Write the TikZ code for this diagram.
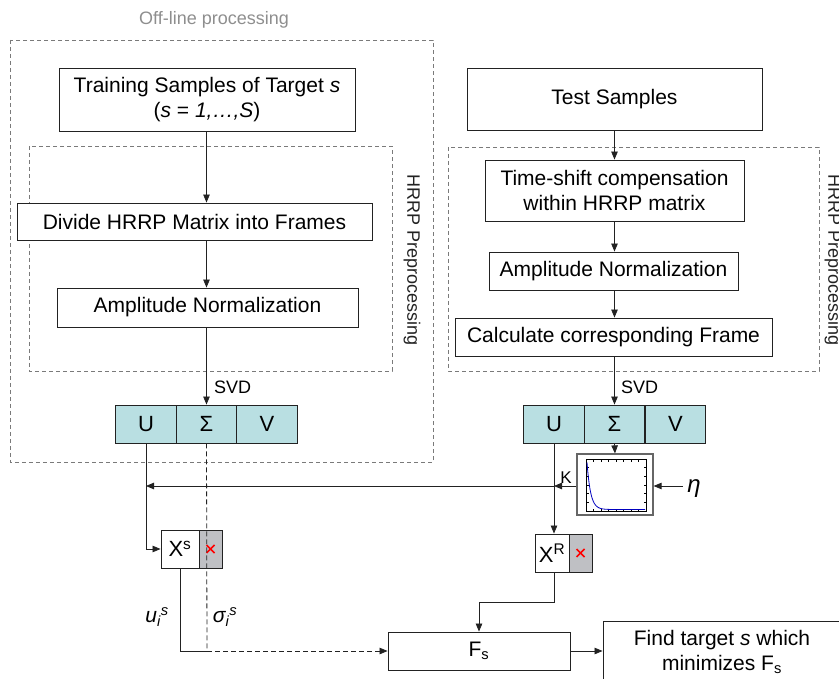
\documentclass[tikz,border=0pt]{standalone}
\usepackage{fontspec}
\setmainfont{Liberation Sans}
\usetikzlibrary{arrows.meta}
\definecolor{cellc}{HTML}{B9DFE2}
\definecolor{grayc}{HTML}{BFC0C4}
\definecolor{linec}{HTML}{222222}
\definecolor{dashc}{HTML}{7A7A7A}
\definecolor{titlec}{HTML}{8E8E8E}
\begin{document}
\begin{tikzpicture}[x=1pt,y=-1pt,
  box/.style={draw=linec, line width=0.9pt, fill=white, inner sep=0pt, align=center, font=\fontsize{21}{25}\selectfont},
  cell/.style={draw=linec, line width=0.9pt, fill=cellc, inner sep=0pt, minimum width=60.5pt, minimum height=38pt, font=\fontsize{22}{26}\selectfont},
  gcell/.style={draw=linec, line width=0.9pt, fill=grayc, inner sep=0pt, minimum width=23pt, minimum height=38pt},
  dbox/.style={draw=dashc, line width=0.8pt, dash pattern=on 4pt off 3pt},
  arr/.style={draw=linec, line width=0.8pt, -{Triangle[length=8pt,width=6.5pt]}},
  ln/.style={draw=linec, line width=0.8pt},
  dln/.style={draw=linec, line width=0.8pt, dash pattern=on 5pt off 3pt},
  lab/.style={inner sep=0pt, font=\fontsize{18}{22}\selectfont},
  xmark/.style={draw=red, line width=1.6pt}
]
\useasboundingbox (0,0) rectangle (839,679);

% containers
\draw[dbox] (10,40) rectangle (433,462);
\draw[dbox] (29,146) rectangle (392,371);
\draw[dbox] (448,147) rectangle (819,371);
\node[lab, text=titlec] (offt) at (214,20) {Off-line processing};
\node[lab, rotate=-90, text=linec] (hl) at (412,260) {HRRP Preprocessing};
\node[lab, rotate=-90, text=linec] (hr) at (833,260) {HRRP Preprocessing};

% left column
\node[box, minimum width=296pt, minimum height=63pt] (train) at (207,99.5)
  {Training Samples of Target \textit{s}\\(\textit{s} = \textit{1,…,S})};
\node[box, minimum width=355pt, minimum height=37pt] (divide) at (194.5,221.5) {Divide HRRP Matrix into Frames};
\node[box, minimum width=301pt, minimum height=39pt] (ampl) at (207.5,307.5) {Amplitude Normalization};
\node[cell] (lu) at (146,424) {U};
\node[cell] (ls) at (206.5,424) {Σ};
\node[cell] (lv) at (267,424) {V};

% right column
\node[box, minimum width=295pt, minimum height=62pt] (test) at (614.5,99) {Test Samples};
\node[box, minimum width=259pt, minimum height=61pt] (shift) at (614.5,190.5) {Time-shift compensation\\within HRRP matrix};
\node[box, minimum width=249pt, minimum height=38pt] (ampr) at (613.5,271) {Amplitude Normalization};
\node[box, minimum width=317pt, minimum height=38pt] (calc) at (613.5,337) {Calculate corresponding Frame};
\node[cell] (ru) at (554,424) {U};
\node[cell] (rs) at (614.5,424) {Σ};
\node[cell] (rv) at (675.5,424) {V};

% plot box
\node[draw=gray!80!black, line width=1.2pt, fill=white, minimum width=76pt, minimum height=61pt, inner sep=0pt] (plot) at (615,484.5) {};
\draw[black, line width=1pt] (586,459) rectangle (646,511);
\foreach \k in {0,...,8} {
  \draw[black, line width=0.4pt] ({586+7.5*\k},459) -- ++(0,2.5);
  \draw[black, line width=0.4pt] ({586+7.5*\k},511) -- ++(0,-2.5);
}
\foreach \k in {0,...,6} {
  \draw[black, line width=0.4pt] (586,{459+52/6*\k}) -- ++(2.5,0);
  \draw[black, line width=0.4pt] (646,{459+52/6*\k}) -- ++(-2.5,0);
}
\draw[blue!75!black, line width=0.8pt, domain=587:645, samples=80] plot (\x, {509.5 - 47*exp(-(\x-587)/3.6)});

% X boxes
\node[box, minimum width=38pt, minimum height=38pt, font=\fontsize{22}{26}\selectfont] (xs) at (180,549) {X\textsuperscript{s}};
\node[gcell] (xsg) at (210.5,549) {};
\draw[xmark] ([shift={(-4,-4)}]xsg.center) -- ([shift={(4,4)}]xsg.center);
\draw[xmark] ([shift={(-4,4)}]xsg.center) -- ([shift={(4,-4)}]xsg.center);
\node[box, minimum width=34pt, minimum height=38pt, font=\fontsize{22}{26}\selectfont] (xr) at (552,553) {X\textsuperscript{R}};
\node[gcell] (xrg) at (580.5,553) {};
\draw[xmark] ([shift={(-4,-4)}]xrg.center) -- ([shift={(4,4)}]xrg.center);
\draw[xmark] ([shift={(-4,4)}]xrg.center) -- ([shift={(4,-4)}]xrg.center);

% bottom boxes
\node[box, minimum width=182pt, minimum height=38pt] (fs) at (479,651) {F\textsubscript{s}};
\node[box, minimum width=238pt, minimum height=62pt] (find) at (722,652)
  {Find target \textit{s} which\\minimizes F\textsubscript{s}};

% labels
\node[lab, anchor=west] (svdl) at (214,387) {SVD};
\node[lab, anchor=west] (svdr) at (621,387) {SVD};
\node[lab, font=\fontsize{17}{20}\selectfont] (klab) at (566,478) {K};
\node[inner sep=0pt, font=\fontsize{24}{28}\selectfont\itshape] (eta) at (694,489) {η};
\node[inner sep=0pt, font=\fontsize{21}{25}\selectfont\itshape] (ulab) at (157,617) {u\textsubscript{i}\textsuperscript{s}};
\node[inner sep=0pt, font=\fontsize{21}{25}\selectfont\itshape] (slab) at (225,617) {σ\textsubscript{i}\textsuperscript{s}};

% coordinates
\coordinate (lsvd) at (206.5,405);
\coordinate (rsvd) at (614.5,405);
\coordinate (kj) at (554,486);
\coordinate (kl) at (146,486);
\coordinate (etaS) at (683,486);
\coordinate (junc) at (207,651);

% left connectors
\draw[arr] (train.south -| lsvd) -- (divide.north -| lsvd);
\draw[arr] (divide.south -| lsvd) -- (ampl.north -| lsvd);
\draw[arr] (ampl.south -| lsvd) -- (ls.north);
\draw[arr] (lu.south) |- (xs.west);
\draw[ln] (xs.south) |- (junc);
\draw[dln] (ls.south) -- (junc);
\draw[dln, -{Triangle[length=8pt,width=6.5pt]}] (junc) -- (fs.west);

% right connectors
\draw[arr] (test.south -| rsvd) -- (shift.north -| rsvd);
\draw[arr] (shift.south -| rsvd) -- (ampr.north -| rsvd);
\draw[arr] (ampr.south -| rsvd) -- (calc.north -| rsvd);
\draw[arr] (calc.south -| rsvd) -- (rs.north);
\draw[arr] (rs.south) -- (plot.north);
\draw[arr] (etaS) -- (plot.east |- etaS);
\draw[arr] (plot.west |- kj) -- (kj);
\draw[arr] (kj) -- (kl);
\draw[arr] (ru.south) -- (ru.south |- xr.north);
\draw[arr] (ru.south |- xr.south) -- (554,602) -| (fs.north);
\draw[arr] (fs.east) -- (find.west |- fs.east);
\end{tikzpicture}
\end{document}
